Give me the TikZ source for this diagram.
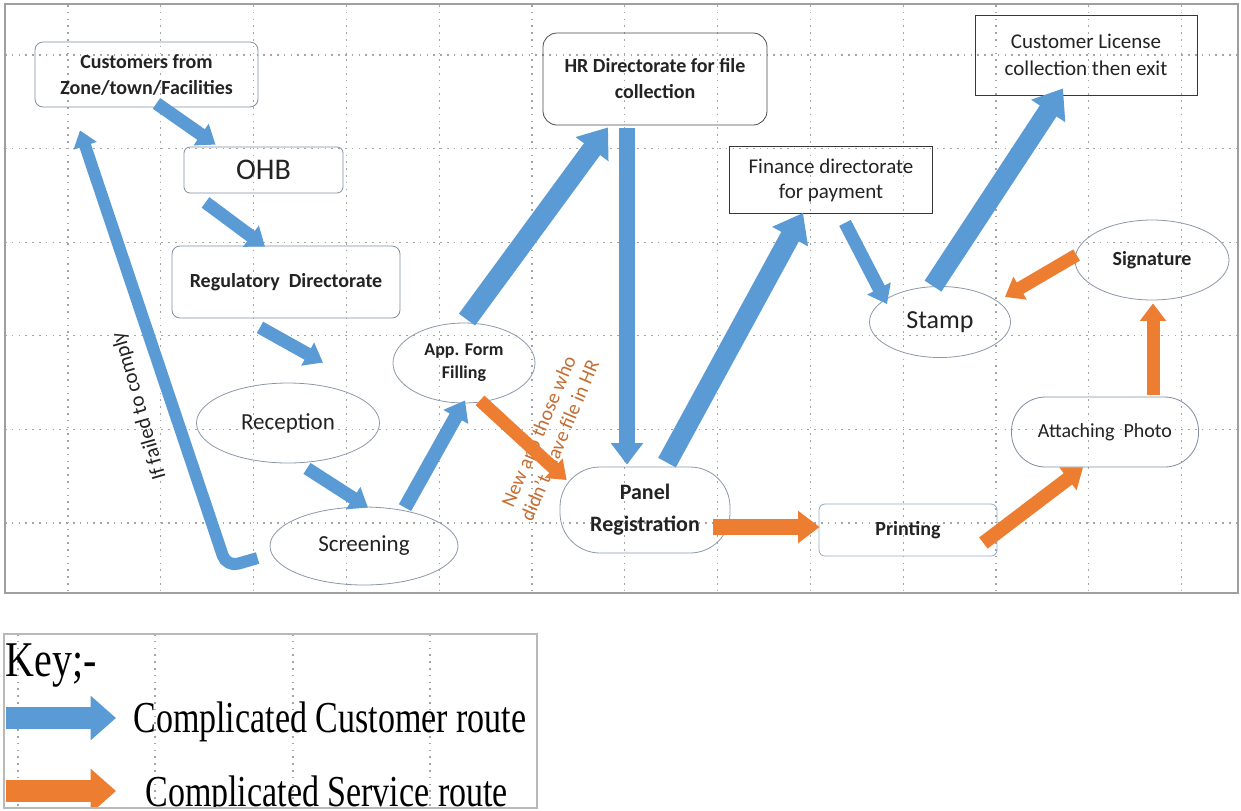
\documentclass[tikz,border=0pt]{standalone}
\usepackage{fontspec}
\setmainfont{Carlito}
\newfontfamily\keyfont{Liberation Serif}
\usepackage{tikz}
\usetikzlibrary{arrows.meta,shapes.geometric}
\definecolor{routeblue}{RGB}{91,155,213}
\definecolor{routeorange}{RGB}{237,125,49}
\definecolor{boxline}{RGB}{128,142,162}
\definecolor{ovalline}{RGB}{140,152,170}
\definecolor{hrline}{RGB}{75,75,75}
\definecolor{sqline}{RGB}{55,55,55}
\definecolor{printline}{RGB}{150,172,198}
\definecolor{textdark}{RGB}{35,35,35}
\definecolor{notebrown}{RGB}{196,110,52}
\definecolor{gridgray}{RGB}{165,165,165}

\begin{document}
\begin{tikzpicture}[x=0.5pt,y=-0.5pt]
         \tikzset{box/.style={draw=boxline,rounded corners=4pt,align=center,text=textdark,inner sep=1pt}}
         \tikzset{sqbox/.style={draw=sqline,align=center,text=textdark,inner sep=1pt}}
         \tikzset{oval/.style={ellipse,draw=ovalline,align=center,text=textdark,inner sep=0pt}}
         \tikzset{gridline/.style={draw=gridgray,line width=0.6pt,dash pattern=on 0.8pt off 2.6pt}}
         \tikzset{custroute/.style={draw=routeblue,line width=#1,-{Triangle[width=0pt 1.95,length=0pt 1.35]}}}
         \tikzset{servroute/.style={draw=routeorange,line width=#1,-{Triangle[width=0pt 1.95,length=0pt 1.35]}}}
         \tikzset{keytext/.style={font=\keyfont\fontsize{17}{20}\selectfont,text=black,inner sep=0pt,anchor=base west}}
         \useasboundingbox[fill=white] (0,0) rectangle (1241,810);
         \foreach \gx in {0,...,12} \draw[gridline] ({68+92.8*\gx},5) -- ({68+92.8*\gx},593);
         \foreach \gy in {0,...,5} \draw[gridline] (5,{55+93.6*\gy}) -- (1238,{55+93.6*\gy});
         \draw[gray!75,line width=1.4pt] (5,4) rectangle (1238,593);
         \node[box,minimum width=111.5pt,minimum height=32.5pt,font=\bfseries\fontsize{10}{13}\selectfont] (cust) at (146.5,74.5) {Customers from\\Zone/town/Facilities};
         \node[box,rounded corners=3pt,minimum width=79.5pt,minimum height=23pt,font=\fontsize{15}{18}\selectfont] (ohb) at (263.5,170) {OHB};
         \node[box,minimum width=114pt,minimum height=36pt,font=\bfseries\fontsize{10}{12}\selectfont] (reg) at (286,282) {Regulatory\ \ Directorate};
         \node[oval,minimum width=91.5pt,minimum height=40pt,font=\fontsize{11.5}{14}\selectfont] (rec) at (288,423) {Reception};
         \node[oval,minimum width=94pt,minimum height=39pt,font=\fontsize{11.5}{14}\selectfont] (scr) at (364,546) {Screening};
         \node[oval,minimum width=71pt,minimum height=40pt,font=\bfseries\fontsize{9}{11.5}\selectfont] (app) at (464,363) {App. Form\\Filling};
         \node[box,draw=hrline,rounded corners=7pt,minimum width=112pt,minimum height=46pt,font=\bfseries\fontsize{10}{13}\selectfont] (hr) at (655,79) {HR Directorate for file\\collection};
         \node[box,draw=ovalline,rounded corners=20pt,minimum width=85pt,minimum height=43pt,font=\bfseries\fontsize{11}{16}\selectfont] (panel) at (645,510) {Panel\\Registration};
         \node[sqbox,minimum width=101.5pt,minimum height=33.5pt,font=\fontsize{10.5}{12.5}\selectfont] (fin) at (831,180) {Finance directorate\\for payment};
         \node[sqbox,minimum width=111pt,minimum height=40pt,font=\fontsize{10.5}{13.5}\selectfont] (lic) at (1086,55) {Customer License\\collection then exit};
         \node[oval,minimum width=70.5pt,minimum height=35.5pt,font=\fontsize{13}{15}\selectfont] (stamp) at (940,322) {Stamp};
         \node[oval,minimum width=77pt,minimum height=40pt,font=\bfseries\fontsize{10}{12}\selectfont] (sig) at (1152,260) {Signature};
         \node[box,rounded corners=17pt,minimum width=93.5pt,minimum height=35pt,font=\fontsize{10}{12}\selectfont] (photo) at (1105,432) {Attaching\ \ Photo};
         \node[box,draw=printline,rounded corners=3pt,minimum width=89pt,minimum height=26pt,font=\bfseries\fontsize{10}{12}\selectfont] (print) at (908,530) {Printing};
         \node[rotate=106,text=textdark,font=\fontsize{10.5}{12}\selectfont] (failnote) at (139.5,406) {If failed to comply};
         \node[rotate=67,align=center,text=notebrown,font=\fontsize{10}{11.5}\selectfont] (newapp) at (549,436) {New app those who\\didn't\ \ have file in HR};
         \draw[custroute=6.5pt] ([shift={(10,-4)}]cust.south) -- ([shift={(-48,-2)}]ohb.north);
         \draw[custroute=6.5pt] ([shift={(-58,9)}]ohb.south) -- ([shift={(-21,1)}]reg.north);
         \draw[custroute=6.5pt] ([shift={(-26,9)}]reg.south) -- ([shift={(35,-20)}]rec.north);
         \draw[custroute=6.5pt] ([shift={(19,5)}]rec.south) -- ([shift={(4,1)}]scr.north);
         \draw[custroute=7pt] ([shift={(41,1)}]scr.north) -- ([shift={(1,-3)}]app.south);
         \draw[custroute=10pt] ([shift={(3,-3)}]app.north) -- ([shift={(-47,2)}]hr.south);
         \draw[custroute=8pt] ([shift={(-28,3)}]hr.south) -- ([shift={(-18,-2)}]panel.north);
         \draw[custroute=10pt] ([shift={(22,-4)}]panel.north) -- ([shift={(-28,-1)}]fin.south);
         \draw[custroute=6.5pt] ([shift={(14,9)}]fin.south) -- ([shift={(-53,18)}]stamp.north);
         \draw[custroute=10pt] ([shift={(-7,0)}]stamp.north) -- ([shift={(-23,-7)}]lic.south);
         \draw[custroute=6pt,rounded corners=6pt] ([shift={(-12,12)}]scr.west) -- ++(-31,9) -- ([shift={(-66.5,23)}]cust.south);
         \draw[servroute=6.5pt] ([shift={(16,-3)}]app.south) -- ([shift={(7,-30)}]panel.west);
         \draw[servroute=8pt] ([shift={(-17,17)}]panel.east) -- ([shift={(1,-3)}]print.west);
         \draw[servroute=7pt] ([shift={(-14,13)}]print.east) -- ([shift={(-22,0)}]photo.south);
         \draw[servroute=6.5pt] ([shift={(48,-2)}]photo.north) -- ([shift={(1,3)}]sig.south);
         \draw[servroute=6.5pt] ([shift={(2,-5)}]sig.west) -- ([shift={(-6,-25)}]stamp.east);
         \begin{scope}
            \clip (4,634) rectangle (537,808);
            \foreach \kx in {18,155,293,430} \draw[gridline] (\kx,634) -- (\kx,808);
            \node[keytext,font=\keyfont\fontsize{20}{24}\selectfont] (keytitle) at (5,676) {\scalebox{1}[1.25]{Key;-}};
            \coordinate (bluestart) at (6,718);
            \coordinate (blueend) at (116,718);
            \coordinate (orangestart) at (6,791);
            \coordinate (orangeend) at (116,791);
            \draw[draw=routeblue,line width=11pt,-{Triangle[width=0pt 1.95,length=0pt 1.15]}] (bluestart) -- (blueend);
            \draw[draw=routeorange,line width=11pt,-{Triangle[width=0pt 1.95,length=0pt 1.15]}] (orangestart) -- (orangeend);
            \node[keytext] (custkey) at (133,732) {\scalebox{1}[1.3]{Complicated Customer route}};
            \node[keytext] (servkey) at (145,806) {\scalebox{1}[1.3]{Complicated Service route}};
         \end{scope}
         \draw[gray!55,line width=0.8pt] (4,634) rectangle (537,808);
      \end{tikzpicture}
\end{document}
